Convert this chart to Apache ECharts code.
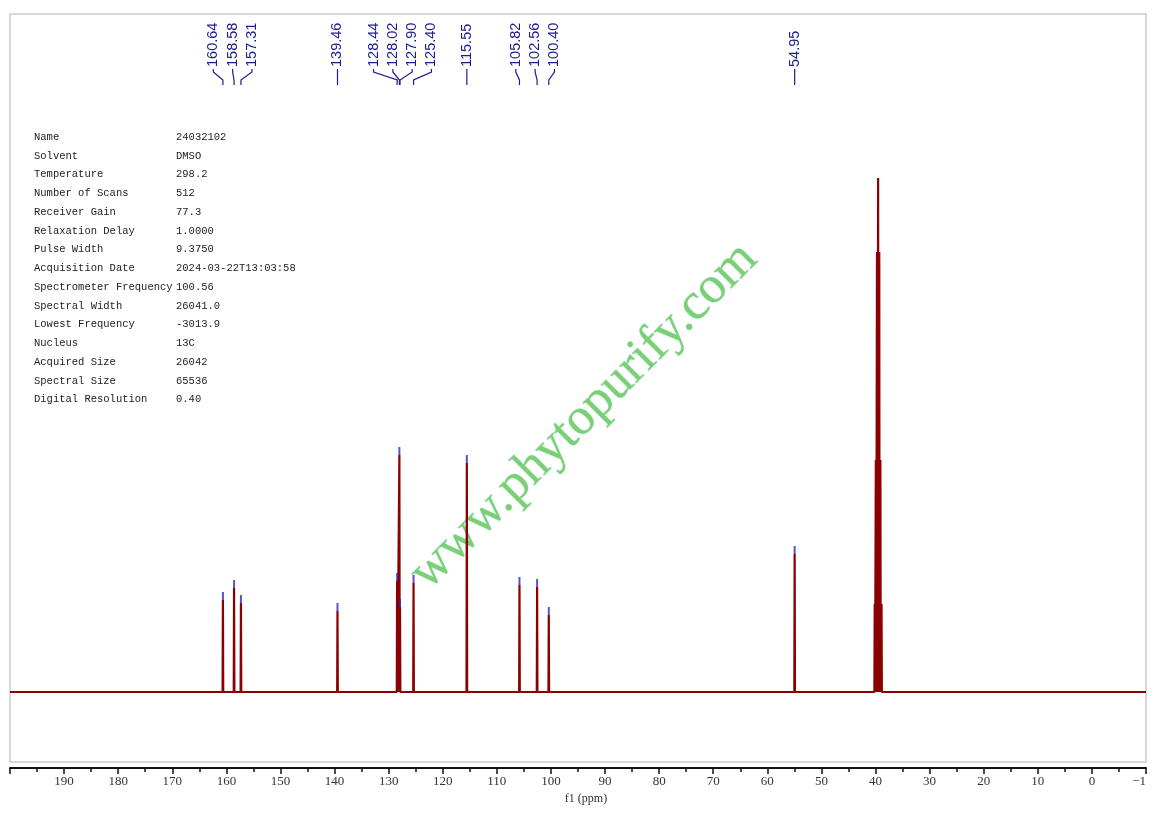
<!DOCTYPE html>
<html>
<head>
<meta charset="utf-8">
<script src="https://cdn.jsdelivr.net/npm/echarts@6/dist/echarts.min.js"></script>
<style>html,body{margin:0;padding:0;background:#fff;}#c{width:1160px;height:813px;}</style>
</head>
<body>
<div id="c"></div>
<script>
// ---- data ----
const peakPpm    = [160.64, 158.58, 157.31, 139.46, 128.44, 128.02, 127.90, 125.40, 115.55, 105.82, 102.56, 100.40, 54.95];
const peakHeight = [92, 104, 89, 81, 111, 237, 85, 109, 229, 107, 105, 77, 138];
const peakLabels = ['160.64','158.58','157.31','139.46','128.44','128.02','127.90','125.40','115.55','105.82','102.56','100.40','54.95'];
const solventPpm    = [40.15, 39.94, 39.73, 39.52, 39.31, 39.10, 38.89];
const solventHeight = [88, 232, 440, 514, 440, 232, 88];
const axisMin = -10, axisMax = 200, axisStep = 10;
const paramNames  = ['Name','Solvent','Temperature','Number of Scans','Receiver Gain','Relaxation Delay','Pulse Width','Acquisition Date','Spectrometer Frequency','Spectral Width','Lowest Frequency','Nucleus','Acquired Size','Spectral Size','Digital Resolution'];
const paramValues = ['24032102','DMSO','298.2','512','77.3','1.0000','9.3750','2024-03-22T13:03:58','100.56','26041.0','-3013.9','13C','26042','65536','0.40'];
const watermark = 'www.phytopurify.com';

// ---- build spectrum line (spikes at each peak) ----
const allPeaks = peakPpm.map((p,i)=>[p, peakHeight[i]]).concat(solventPpm.map((p,i)=>[p, solventHeight[i]]));
allPeaks.sort((a,b)=>b[0]-a[0]);
const halfW = 0.06;
const lineData = [[axisMax, 0]];
allPeaks.forEach(([p,h]) => { lineData.push([p+halfW, 0], [p, h], [p-halfW, 0]); });
lineData.push([axisMin, 0]);

const chart = echarts.init(document.getElementById('c'), null, {renderer: 'canvas'});
const serif = 'Liberation Serif';
chart.setOption({
  animation: false,
  backgroundColor: '#ffffff',
  grid: {left: 10, right: 14, top: 14, bottom: 51, show: true, borderColor: '#cccccc', borderWidth: 1.5},
  xAxis: {
    type: 'value', inverse: true, min: axisMin, max: axisMax, interval: axisStep, offset: 6,
    axisLine: {show: true, onZero: false, lineStyle: {color: '#111', width: 2}},
    axisTick: {show: true, inside: false, length: 6, lineStyle: {color: '#111', width: 1.5}},
    minorTick: {show: true, splitNumber: 2, length: 4, lineStyle: {color: '#111', width: 1.5}},
    splitLine: {show: false},
    axisLabel: {color: '#333', fontFamily: serif, fontSize: 13, margin: 7, alignMinLabel: 'right',
      formatter: v => v === axisMax ? '' : (v < 0 ? '\u2212' + String(-v).slice(0,1) : String(v))},
    name: 'f1 (ppm)', nameLocation: 'middle', nameGap: 25,
    nameTextStyle: {color: '#333', fontFamily: serif, fontSize: 12, padding: [0,0,0,16]}
  },
  yAxis: {type: 'value', min: -70, max: 678, show: false, splitLine: {show: false}},
  series: [
    {type: 'line', data: lineData, showSymbol: false, symbol: 'none', sampling: null, z: 3,
     lineStyle: {color: '#8b0000', width: 2.2}},
    {type: 'scatter', data: peakPpm.map((p,i)=>[p, peakHeight[i]]), symbol: 'rect', symbolSize: [2, 8],
     symbolOffset: [0, -4], itemStyle: {color: '#2a2ab8'}, z: 4, silent: true}
  ]
});

// ---- peak labels at top, spread apart and connected ----
const px = peakPpm.map(p => chart.convertToPixel({xAxisIndex: 0}, p));
const order = px.map((x,i)=>i).sort((a,b)=>px[a]-px[b]);
const gap = 19.3;
let clusters = order.map(i => ({idx: [i]}));
function place(c){ const m = c.idx.reduce((s,i)=>s+px[i],0)/c.idx.length; c.pos = c.idx.map((i,k)=> m + (k-(c.idx.length-1)/2)*gap); }
clusters.forEach(place);
let merged = true;
while (merged) {
  merged = false;
  for (let k = 0; k < clusters.length-1; k++) {
    const a = clusters[k], b = clusters[k+1];
    if (b.pos[0] - a.pos[a.pos.length-1] < gap) {
      const c = {idx: a.idx.concat(b.idx)}; place(c);
      clusters.splice(k, 2, c); merged = true; break;
    }
  }
}
const labelX = {};
clusters.forEach(c => c.idx.forEach((i,k) => labelX[i] = c.pos[k]));
const labelColor = '#1c1c8e';
const graphics = [];
peakPpm.forEach((p,i) => {
  const lx = labelX[i];
  graphics.push({type: 'text', x: lx, y: 67, rotation: Math.PI/2, z: 10,
    style: {text: peakLabels[i], fill: labelColor, font: '14.5px "Liberation Sans", Arial, sans-serif', textAlign: 'left', textVerticalAlign: 'middle'}});
  graphics.push({type: 'polyline', z: 10, shape: {points: [[lx, 69], [lx, 72], [px[i], 80], [px[i], 85]]},
    style: {stroke: labelColor, lineWidth: 1.2, fill: null}});
});
// ---- acquisition parameter table ----
paramNames.forEach((n,i) => {
  const y = 137 + i*18.75;
  graphics.push({type: 'text', x: 34, y: y, z: 10, style: {text: n, fill: '#222', font: '10.5px "Liberation Mono", monospace', textVerticalAlign: 'middle'}});
  graphics.push({type: 'text', x: 176, y: y, z: 10, style: {text: paramValues[i], fill: '#222', font: '10.5px "Liberation Mono", monospace', textVerticalAlign: 'middle'}});
});
// ---- watermark ----
graphics.push({type: 'text', x: 584, y: 416, rotation: Math.PI/4, z: 1,
  style: {text: watermark, fill: '#7ccf72', stroke: 'rgba(170,235,225,0.7)', lineWidth: 1,
    font: '52px "Liberation Serif", "Times New Roman", serif', textAlign: 'center', textVerticalAlign: 'middle'}});
chart.setOption({graphic: graphics});
</script>
</body>
</html>
